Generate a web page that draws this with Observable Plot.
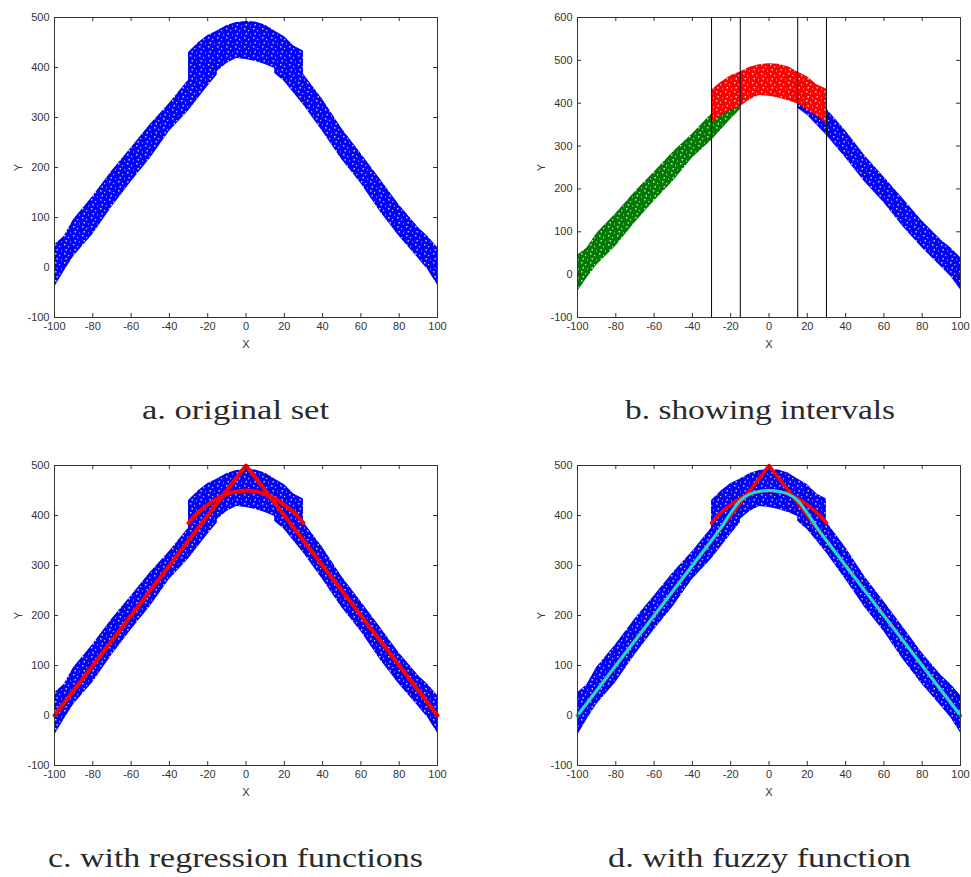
<!DOCTYPE html>
<html><head><meta charset="utf-8">
<script src="https://cdn.jsdelivr.net/npm/d3@7"></script>
<script src="https://cdn.jsdelivr.net/npm/@observablehq/plot@0.6"></script>
<style>
body{margin:0;background:#fff;}
#page{position:relative;width:971px;height:877px;overflow:hidden;background:#fff}
.panel{position:absolute}
</style></head><body>
<div id="page"></div>
<script>
// ---------- data ----------
const xTicks = [-100,-80,-60,-40,-20,0,20,40,60,80,100];
const yTicks500 = [-100,0,100,200,300,400,500];
const yTicks600 = [-100,0,100,200,300,400,500,600];

// left (green) cloud envelope
const leftX  = [-100,-95,-90,-80,-70,-60,-50,-40,-30,-20,-15];
const leftHi = [45,62,96,142,193,239,286,328,375,425,440];
const leftLo = [-40,-8,22,66,121,171,218,272,313,362,385];
// middle (red) cloud envelope
const midX  = [-30,-25,-20,-15,-10,-5,0,5,10,15,20,25,30];
const midHi = [430,449,464,473,484,490,492,491,485,473,462,443,433];
const midLo = [352,371,383,392,408,418,416,412,406,398,385,370,352];
// right (blue) cloud envelope
const rightX  = [15,20,30,40,50,60,70,80,90,95,100];
const rightHi = [418,410,387,336,278,228,177,125,80,62,40];
const rightLo = [388,372,325,272,216,168,112,62,18,-5,-35];

// interval boundaries
const intervalX = [-30,-15,15,30];

// regression functions
const regX = [-100,0,100];
const regY = [0,500,0];
const paraX = [-30,-25,-20,-15,-10,-5,0,5,10,15,20,25,30];
const paraY = [385,406,421,434,443,448,450,448,443,434,421,406,385];

// fuzzy function
const fuzzyX = [-100,-30,-25,-20,-15,-10,-5,0,5,10,15,20,25,30,100];
const fuzzyY = [0,350,376,405,430,443,448,450,448,443,430,405,376,350,0];

const captions = ["a. original set","b. showing intervals","c. with regression functions","d. with fuzzy function"];

// ---------- tables ----------
const band = (xs, lo, hi) => xs.map((x,i)=>({x, lo: lo[i], hi: hi[i]}));
const leftBand = band(leftX, leftLo, leftHi);
const midBand = band(midX, midLo, midHi);
const rightBand = band(rightX, rightLo, rightHi);
const pts = (xs, ys) => xs.map((x,i)=>({x, y: ys[i]}));
const regLine = pts(regX, regY);
const paraLine = pts(paraX, paraY);
const fuzzyLine = pts(fuzzyX, fuzzyY);

// ---------- speckle patterns (texture only) ----------
const page = document.getElementById("page");
const defsSvg = d3.select(page).append("svg").attr("width",0).attr("height",0)
  .style("position","absolute");
const defs = defsSvg.append("defs");
function pattern(id, color){
  const p = defs.append("pattern").attr("id",id).attr("width",9).attr("height",9)
    .attr("patternUnits","userSpaceOnUse");
  p.append("rect").attr("width",9).attr("height",9).attr("fill",color);
  [[1,1,1.5],[5,3,1.2],[2.5,6,1.5],[7,7.5,1]].forEach(([x,y,s])=>
    p.append("rect").attr("x",x).attr("y",y).attr("width",s).attr("height",s)
      .attr("fill","#fff").attr("opacity",0.75));
}
pattern("pb","#0000ff"); pattern("pg","#007a00"); pattern("pr","#ff0000");

const SANS = "Arial, 'Liberation Sans', Helvetica, sans-serif";
const SERIF = "'Times New Roman', 'Liberation Serif', Times, serif";

// ---------- panel builder ----------
function panel({left, top, width, mL, mR, yDomain, yTicks, marks}){
  const W = width, H = 360, mT = 17, mB = 43;
  const plotW = W - mL - mR, plotH = H - mT - mB;
  const svg = Plot.plot({
    width: W, height: H,
    marginLeft: mL, marginRight: mR, marginTop: mT, marginBottom: mB,
    x: {domain: [-100,100]},
    y: {domain: yDomain},
    style: {fontFamily: SANS, fontSize: "11px", color: "#333", background: "transparent", overflow: "visible"},
    marks: [
      ...marks,
      Plot.frame({stroke: "#333", strokeWidth: 1}),
      Plot.tickX(xTicks, {x: d=>d, stroke: "#333", insetTop: plotH-4}),
      Plot.tickX(xTicks, {x: d=>d, stroke: "#333", insetBottom: plotH-4}),
      Plot.tickY(yTicks, {y: d=>d, stroke: "#333", insetRight: plotW-4}),
      Plot.tickY(yTicks, {y: d=>d, stroke: "#333", insetLeft: plotW-4}),
      Plot.axisX({anchor: "bottom", ticks: xTicks, tickSize: 0, tickPadding: 5, tickFormat: d=>String(d),
        label: "X", labelAnchor: "center", labelOffset: 30, labelArrow: "none"}),
      Plot.axisY({anchor: "left", ticks: yTicks, tickSize: 0, tickPadding: 5, tickFormat: d=>String(d),
        label: "Y", labelAnchor: "center", labelOffset: 40, labelArrow: "none"})
    ]
  });
  svg.classList.add("panel");
  svg.style.left = left + "px"; svg.style.top = top + "px";
  page.appendChild(svg);
}

const cloud = (fillL, fillM, fillR) => [
  Plot.areaY(leftBand, {x: "x", y1: "lo", y2: "hi", fill: fillL}),
  Plot.areaY(rightBand, {x: "x", y1: "lo", y2: "hi", fill: fillR}),
  Plot.areaY(midBand, {x: "x", y1: "lo", y2: "hi", fill: fillM})
];

// a. original set
panel({left: 0, top: 0, width: 485, mL: 54, mR: 48, yDomain: [-100,500], yTicks: yTicks500,
  marks: cloud("url(#pb)","url(#pb)","url(#pb)")});
// b. showing intervals
panel({left: 490, top: 0, width: 481, mL: 87, mR: 11, yDomain: [-100,600], yTicks: yTicks600,
  marks: [...cloud("url(#pg)","url(#pr)","url(#pb)"),
    Plot.ruleX(intervalX, {x: d=>d, stroke: "#000", strokeWidth: 1})]});
// c. with regression functions
panel({left: 0, top: 448, width: 485, mL: 54, mR: 48, yDomain: [-100,500], yTicks: yTicks500,
  marks: [...cloud("url(#pb)","url(#pb)","url(#pb)"),
    Plot.line(regLine, {x: "x", y: "y", stroke: "#ff0000", strokeWidth: 4}),
    Plot.line(paraLine, {x: "x", y: "y", stroke: "#ff0000", strokeWidth: 4, curve: "catmull-rom"})]});
// d. with fuzzy function
panel({left: 490, top: 448, width: 481, mL: 87, mR: 11, yDomain: [-100,500], yTicks: yTicks500,
  marks: [...cloud("url(#pb)","url(#pb)","url(#pb)"),
    Plot.line(regLine, {x: "x", y: "y", stroke: "#ff0000", strokeWidth: 3.5}),
    Plot.line(paraLine, {x: "x", y: "y", stroke: "#ff0000", strokeWidth: 3.5, curve: "catmull-rom"}),
    Plot.line(fuzzyLine, {x: "x", y: "y", stroke: "#10e0e0", strokeWidth: 3, curve: "catmull-rom"})]});

// ---------- captions ----------
const cap = d3.select(page).append("svg").attr("width",971).attr("height",877)
  .style("position","absolute").style("left","0px").style("top","0px").style("pointer-events","none");
const capPos = [[235.5,419,187],[760,419,270],[235.5,867,375],[759.5,867,303]];
captions.forEach((t,i)=>{
  const [cx, by, w] = capPos[i];
  cap.append("text").attr("x", cx - w/2).attr("y", by)
    .attr("textLength", w).attr("lengthAdjust", "spacingAndGlyphs")
    .style("font-family", SERIF)
    .attr("font-size", 27).attr("fill", "#2a2a2a").text(t);
});
</script>
</body></html>
